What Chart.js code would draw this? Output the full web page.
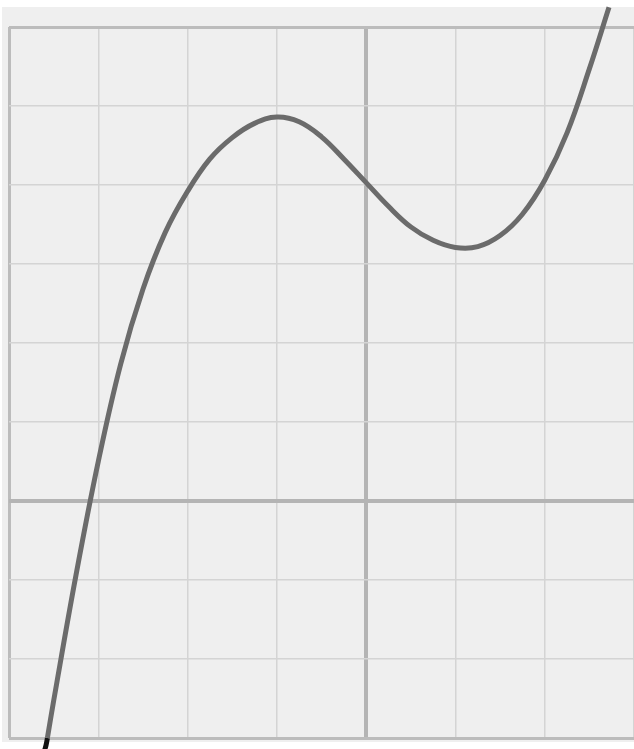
<!DOCTYPE html>
<html lang="en">
<head>
  <meta charset="UTF-8">
  <title>Cubic curve on grid paper</title>
  <script src="https://cdn.jsdelivr.net/npm/chart.js"></script>
  <style>
    html, body {
      margin: 0;
      padding: 0;
      background: #ffffff;
    }
    #wrap {
      position: relative;
      width: 634px;
      height: 749px;
    }
  </style>
</head>
<body>

  <div id="wrap"><canvas id="curveChart"></canvas></div>

  <script>
    // points (grid units)
    const xValues = [-3.60, -3.585, -3.57, -3.5, -3.25, -3.0, -2.75, -2.5, -2.25, -2.0,
                     -1.75, -1.5, -1.25, -1.0, -0.75, -0.5, -0.25, 0.0, 0.25, 0.5,
                     0.75, 1.0, 1.25, 1.5, 1.75, 2.0, 2.25, 2.5, 2.72];
    const yValues = [-3.15, -3.09, -3.0, -2.53, -0.94, 0.5, 1.73, 2.68, 3.40, 3.92,
                     4.33, 4.60, 4.78, 4.86, 4.80, 4.61, 4.33, 4.03, 3.73, 3.47,
                     3.30, 3.21, 3.22, 3.36, 3.63, 4.06, 4.66, 5.47, 6.25];

    const xTicks = [-4, -3, -2, -1, 0, 1, 2, 3];
    const yTicks = [-3, -2, -1, 0, 1, 2, 3, 4, 5, 6];

    const points = xValues.map((x, i) => ({ x: x, y: yValues[i] }));

    // grid paper background
    const paper = {
      id: 'paper',
      beforeDraw(chart) {
        const c = chart.ctx;
        c.save();
        c.fillStyle = '#ffffff';
        c.fillRect(0, 0, chart.width, chart.height);
        c.fillStyle = '#efefef';
        c.fillRect(2, 7, chart.width - 2, 735);
        c.restore();
      }
    };

    function lineW(ctx, edges) {
      const v = ctx.tick.value;
      if (v === 0) return 4;
      if (edges.includes(v)) return 3;
      return 1.5;
    }
    function lineC(ctx, edges) {
      const v = ctx.tick.value;
      if (v === 0) return '#b4b4b4';
      if (edges.includes(v)) return '#bcbcbc';
      return '#d4d4d4';
    }

    const ctx = document.getElementById('curveChart').getContext('2d');
    new Chart(ctx, {
      type: 'scatter',
      data: {
        datasets: [{
          data: points,
          showLine: true,
          pointRadius: 0,
          borderColor: '#6b6b6b',
          borderWidth: 5,
          tension: 0.4,
          clip: false,
          segment: {
            borderColor: s => s.p0.parsed.y < -3.05 ? '#111111' : undefined
          }
        }]
      },
      options: {
        responsive: true,
        maintainAspectRatio: false,
        animation: false,
        events: [],
        layout: {
          autoPadding: false,
          padding: { left: 9, top: 27, right: 0, bottom: 11 }
        },
        plugins: {
          legend: { display: false },
          tooltip: { enabled: false }
        },
        scales: {
          x: {
            type: 'linear',
            min: -4,
            max: 3,
            afterBuildTicks: scale => { scale.ticks = xTicks.map(v => ({ value: v })); },
            ticks: { display: false },
            border: { display: false },
            grid: {
              drawTicks: false,
              lineWidth: c => lineW(c, [-4]),
              color: c => lineC(c, [-4])
            }
          },
          y: {
            type: 'linear',
            min: -3,
            max: 6,
            afterBuildTicks: scale => { scale.ticks = yTicks.map(v => ({ value: v })); },
            ticks: { display: false },
            border: { display: false },
            grid: {
              drawTicks: false,
              lineWidth: c => lineW(c, [-3, 6]),
              color: c => lineC(c, [-3, 6])
            }
          }
        }
      },
      plugins: [paper]
    });
  </script>

</body>
</html>
